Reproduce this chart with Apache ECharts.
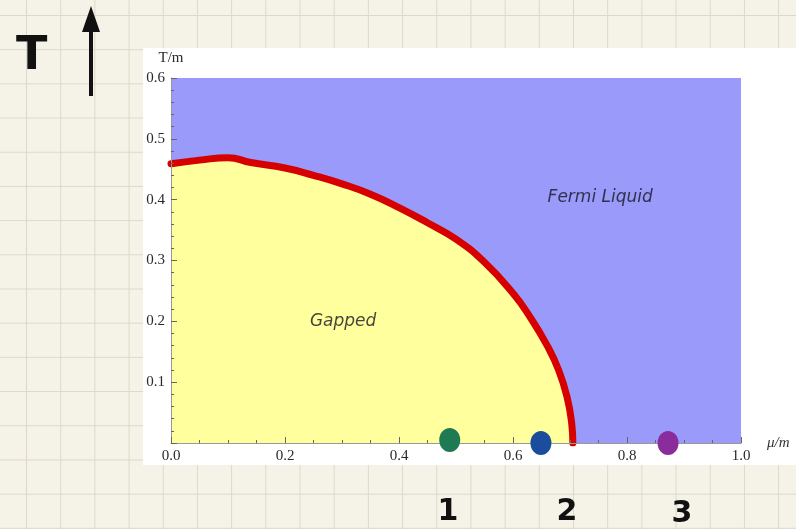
<!DOCTYPE html>
<html><head><meta charset="utf-8">
<script src="https://cdn.jsdelivr.net/npm/echarts@6/dist/echarts.min.js"></script>
<style>
html,body{margin:0;padding:0;}
body{width:796px;height:529px;overflow:hidden;background-color:#f5f3e7;
background-image:linear-gradient(to right,#dcd9cb 1px,transparent 1px),linear-gradient(to bottom,#dcd9cb 1px,transparent 1px);
background-size:34.2px 34.2px;background-position:26px 15px;}
#c{width:796px;height:529px;}
</style></head><body><div id="c"></div>
<script>
// Phase boundary T_c(mu) (mu/m, T/m)
const boundaryMu = [0, 0.05, 0.10, 0.14, 0.20, 0.25, 0.30, 0.35, 0.40, 0.45, 0.50, 0.55, 0.60, 0.63, 0.66, 0.68, 0.695, 0.703, 0.705];
const boundaryT  = [0.459, 0.465, 0.469, 0.461, 0.452, 0.44, 0.426, 0.409, 0.387, 0.362, 0.335, 0.297, 0.246, 0.207, 0.16, 0.12, 0.075, 0.032, 0];
// Marked points on the mu axis
const pointMu = [0.489, 0.649, 0.872];
const pointT = [0.005, 0, 0];
const pointColors = ['#1d7a52', '#1b4d9c', '#8b2c9c'];
const pointNames = ['1', '2', '3'];
const regionLabels = [{name: 'Fermi Liquid', mu: 0.753, T: 0.403}, {name: 'Gapped', mu: 0.302, T: 0.199}];
const xTicks = [0, 0.2, 0.4, 0.6, 0.8, 1.0];
const yTicks = [0.1, 0.2, 0.3, 0.4, 0.5, 0.6];

const chart = echarts.init(document.getElementById('c'));
const serif = 'Liberation Serif';
const hand = 'DejaVu Sans';
chart.setOption({
  backgroundColor: 'transparent',
  animation: false,
  graphic: [
    {type: 'rect', shape: {x: 143, y: 48, width: 653, height: 417}, style: {fill: '#ffffff'}, z: -10},
    {type: 'text', left: 16, top: 34, style: {text: 'T', font: 'bold 46px "DejaVu Sans"', fill: '#111'}},
    {type: 'line', shape: {x1: 91, y1: 12, x2: 91, y2: 96}, style: {stroke: '#111', lineWidth: 4}},
    {type: 'polygon', shape: {points: [[91, 6], [82, 32], [100, 32]]}, style: {fill: '#111'}},
    {type: 'text', x: 448, y: 512, style: {text: pointNames[0], font: 'bold 30px "DejaVu Sans"', fill: '#111', align: 'center', verticalAlign: 'middle'}},
    {type: 'text', x: 567, y: 512, style: {text: pointNames[1], font: 'bold 30px "DejaVu Sans"', fill: '#111', align: 'center', verticalAlign: 'middle'}},
    {type: 'text', x: 682, y: 514, style: {text: pointNames[2], font: 'bold 30px "DejaVu Sans"', fill: '#111', align: 'center', verticalAlign: 'middle'}}
  ],
  grid: {left: 171, right: 55, top: 78, bottom: 86, show: true, backgroundColor: '#9a9afb', borderWidth: 0},
  xAxis: {
    type: 'value', min: 0, max: 1, interval: 0.2, z: 10,
    name: 'μ/m', nameLocation: 'end', nameGap: 26,
    nameTextStyle: {fontFamily: serif, fontStyle: 'italic', fontSize: 15, color: '#333', verticalAlign: 'middle'},
    axisLine: {show: true, lineStyle: {color: '#999', width: 1}},
    axisTick: {show: true, inside: true, length: 6, lineStyle: {color: '#666'}},
    minorTick: {show: true, splitNumber: 4, length: 3, lineStyle: {color: '#666'}},
    splitLine: {show: false},
    axisLabel: {fontFamily: serif, fontSize: 15, color: '#2a2a2a', margin: 6, formatter: v => v.toFixed(1)}
  },
  yAxis: {
    type: 'value', min: 0, max: 0.6, interval: 0.1, z: 10,
    name: 'T/m', nameLocation: 'end', nameGap: 12,
    nameTextStyle: {fontFamily: serif, fontSize: 15, color: '#2a2a2a', align: 'center'},
    axisLine: {show: true, lineStyle: {color: '#999', width: 1}},
    axisTick: {show: true, inside: true, length: 6, lineStyle: {color: '#666'}},
    minorTick: {show: true, splitNumber: 5, length: 3, lineStyle: {color: '#666'}},
    splitLine: {show: false},
    axisLabel: {fontFamily: serif, fontSize: 15, color: '#2a2a2a', margin: 6, formatter: v => (v === 0 ? '' : v.toFixed(1))}
  },
  series: [
    {
      type: 'line', data: boundaryMu.map((m, i) => [m, boundaryT[i]]),
      smooth: 0.5, showSymbol: false, symbol: 'none',
      lineStyle: {color: '#d60000', width: 7, cap: 'round', join: 'round'},
      areaStyle: {color: '#ffff9e', opacity: 1, origin: 'start'},
      z: 2
    },
    {
      type: 'scatter', data: pointMu.map((m, i) => ({value: [m, pointT[i]], itemStyle: {color: pointColors[i], opacity: 1}})),
      symbol: 'circle', symbolSize: [21, 24], clip: false, z: 12
    },
    {
      type: 'scatter', symbolSize: 0, clip: false, z: 12,
      data: regionLabels.map(r => ({value: [r.mu, r.T], name: r.name})),
      label: {show: true, position: 'inside', formatter: p => p.name, fontFamily: hand, fontStyle: 'italic', fontSize: 17, color: '#15151f'}
    }
  ]
});
</script></body></html>
